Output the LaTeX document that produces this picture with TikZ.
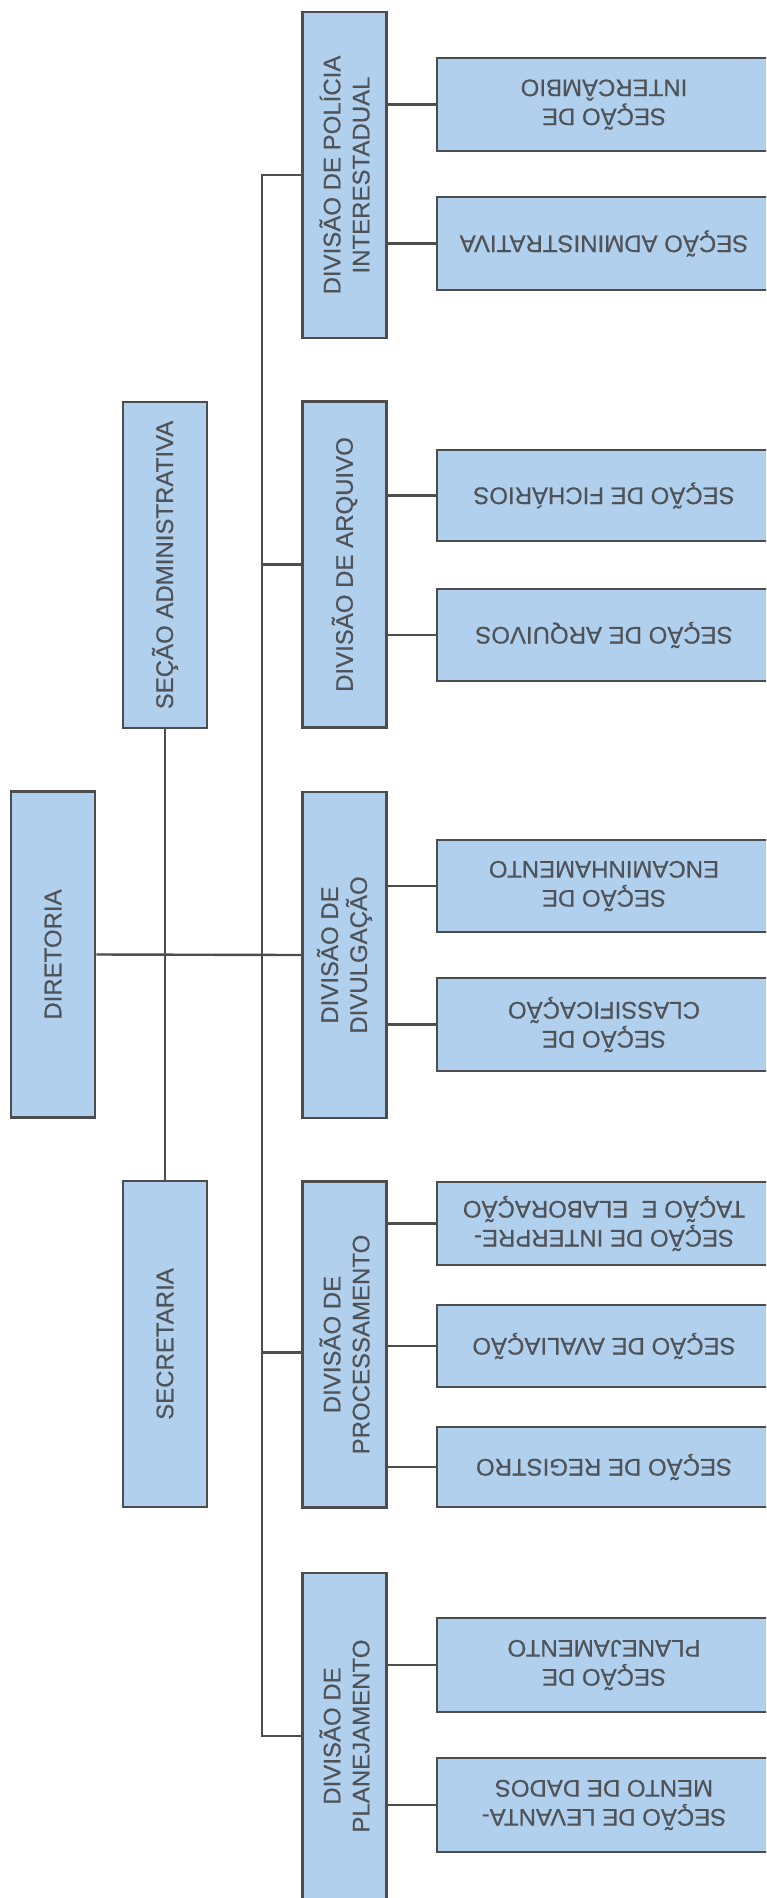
\documentclass[tikz,border=0pt]{standalone}
\usepackage{fontspec}
\setmainfont{Liberation Sans}
\newfontfamily\boxfont[FakeBold=0.4]{Liberation Sans}
\definecolor{boxfill}{HTML}{B0D0EE}
\definecolor{boxline}{HTML}{4D4D4D}
\definecolor{boxtext}{HTML}{4F5257}
\tikzset{
  orgbox/.style={rectangle, draw=boxline, line width=2.6pt, fill=boxfill, inner sep=0pt},
  upbox/.style={orgbox, minimum width=84, minimum height=326},
  secbox/.style={orgbox, minimum width=334},
  uptext/.style={rotate=90, align=center, text=boxtext, font=\boxfont\fontsize{24}{29}\selectfont},
  downtext/.style={rotate=180, align=center, text=boxtext, font=\boxfont\fontsize{24}{29}\selectfont},
  conn/.style={draw=boxline, line width=2.4pt},
}
\begin{document}
\begin{tikzpicture}[x=1pt,y=-1pt]
\useasboundingbox (0,0) rectangle (766,1898);
\clip (0,0) rectangle (766,1898);
% coluna da esquerda
\node[upbox, label={[uptext]center:DIRETORIA}] (diretoria) at (53,954.5) {};
\node[upbox, label={[uptext]center:SEÇÃO ADMINISTRATIVA}] (secadm) at (165,565) {};
\node[upbox, label={[uptext]center:SECRETARIA}] (secretaria) at (165,1344) {};
% divisoes
\foreach \nm/\yc/\txt in {policia/175/{DIVISÃO DE POLÍCIA\\INTERESTADUAL},
    arquivo/564.5/{DIVISÃO DE ARQUIVO},
    divulga/955/{DIVISÃO DE\\DIVULGAÇÃO},
    process/1344.5/{DIVISÃO DE\\PROCESSAMENTO},
    planej/1736/{DIVISÃO DE\\PLANEJAMENTO}}{
  \node[upbox, label={[uptext]center:\txt}] (\nm) at (344.5,\yc) {};
}
% ligacoes
\draw[conn] (diretoria.east) -- (divulga.west);
\draw[conn] (secadm.south) -- (secretaria.north);
\draw[conn] (policia.west) -- ++(-39,0) coordinate (trunk) |- (planej.west);
\foreach \nm in {arquivo,divulga}
  \draw[conn] (trunk |- \nm.west) -- (\nm.west);
\draw[conn] ([yshift=-8pt]process.west -| trunk) -- ([yshift=-8pt]process.west);
% secoes
\foreach \nm/\dv/\yc/\hh/\txt in {
    s11/policia/104.5/93/{SEÇÃO DE\\INTERCÂMBIO},
    s12/policia/243.5/93/{SEÇÃO ADMINISTRATIVA},
    s21/arquivo/495.5/91/{SEÇÃO DE FICHÁRIOS},
    s22/arquivo/635/92/{SEÇÃO DE ARQUIVOS},
    s31/divulga/886/92/{SEÇÃO DE\\ENCAMINHAMENTO},
    s32/divulga/1024.5/93/{SEÇÃO DE\\CLASSIFICAÇÃO},
    s41/process/1223.5/83/{SEÇÃO DE INTERPRE-\\TAÇÃO E\ \ ELABORAÇÃO},
    s42/process/1346/82/{SEÇÃO DE AVALIAÇÃO},
    s43/process/1467/80/{SEÇÃO DE REGISTRO},
    s51/planej/1665/94/{SEÇÃO DE\\PLANEJAMENTO},
    s52/planej/1805/94/{SEÇÃO DE LEVANTA-\\MENTO DE DADOS}}{
  \node[secbox, minimum height=\hh, label={[downtext]center:\txt}] (\nm) at (604,\yc) {};
  \draw[conn] (\dv.east |- \nm.west) -- (\nm.west);
}
\end{tikzpicture}
\end{document}
